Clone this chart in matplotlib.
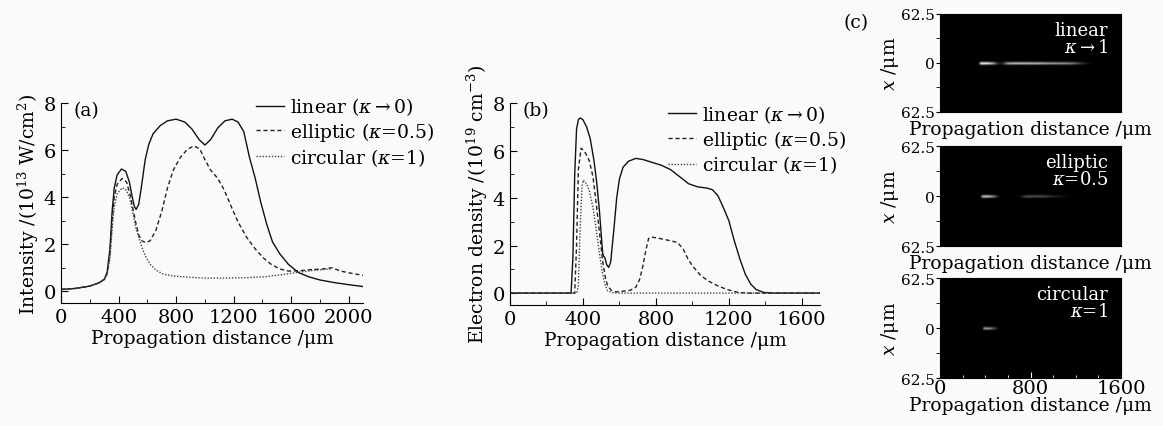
import matplotlib
matplotlib.use('Agg')
import matplotlib.pyplot as plt
import numpy as np
from matplotlib.ticker import MultipleLocator, FixedLocator

plt.rcParams['font.family'] = ['DejaVu Serif', 'DejaVu Sans']
plt.rcParams['mathtext.fontset'] = 'dejavuserif'
plt.rcParams['font.size'] = 13

# (a) peak intensity along propagation, 10^13 W/cm^2
za_lin = [0, 100, 200, 260, 300, 320, 340, 355, 370, 390, 420, 450, 475, 495, 510, 522, 540, 560, 585, 610,
          640, 690, 740, 800, 860, 910, 960, 1000, 1040, 1090, 1140, 1190, 1230, 1270, 1310, 1350, 1390,
          1430, 1470, 1520, 1580, 1650, 1720, 1800, 1900, 2000, 2100]
Ia_lin = [0.08, 0.12, 0.22, 0.35, 0.5, 0.8, 1.8, 3.4, 4.4, 4.95, 5.2, 5.1, 4.65, 4.0, 3.6, 3.48, 3.7, 4.5, 5.6, 6.25,
          6.7, 7.05, 7.25, 7.32, 7.2, 6.9, 6.45, 6.22, 6.45, 6.95, 7.25, 7.32, 7.2, 6.8, 5.7, 4.8, 3.75,
          2.85, 2.1, 1.6, 1.15, 0.8, 0.62, 0.48, 0.37, 0.28, 0.2]

za_ell = [0, 100, 200, 260, 300, 320, 340, 355, 370, 390, 425, 455, 480, 500, 520, 540, 560, 590, 620, 660,
          700, 740, 780, 830, 880, 925, 965, 1000, 1040, 1090, 1135, 1180, 1230, 1290, 1350, 1410, 1460,
          1520, 1580, 1650, 1740, 1820, 1880, 1950, 2030, 2100]
Ia_ell = [0.08, 0.12, 0.22, 0.35, 0.5, 0.75, 1.6, 3.0, 4.0, 4.55, 4.8, 4.65, 4.1, 3.5, 2.9, 2.4, 2.15, 2.07, 2.15, 2.6,
          3.4, 4.4, 5.15, 5.7, 6.05, 6.18, 6.05, 5.6, 5.15, 4.8, 4.3, 3.65, 2.95, 2.3, 1.8, 1.4, 1.15,
          0.95, 0.86, 0.87, 0.92, 0.95, 1.0, 0.85, 0.75, 0.68]

za_cir = [0, 100, 200, 260, 300, 320, 340, 355, 370, 390, 425, 455, 480, 500, 520, 540, 560, 590, 620, 660,
          710, 780, 880, 1000, 1150, 1300, 1420, 1530, 1640, 1740, 1840, 1880]
Ia_cir = [0.08, 0.12, 0.22, 0.35, 0.5, 0.7, 1.4, 2.6, 3.6, 4.15, 4.4, 4.3, 3.9, 3.3, 2.7, 2.3, 1.9, 1.45, 1.15, 0.9,
          0.73, 0.65, 0.6, 0.56, 0.56, 0.58, 0.62, 0.7, 0.8, 0.88, 0.93, 0.95]

# (b) on-axis electron density, 10^19 cm^-3
zb_lin = [0, 335, 345, 355, 365, 375, 385, 400, 420, 440, 460, 475, 490, 500, 508, 513, 520, 530, 541, 552,
          570, 585, 600, 620, 650, 690, 730, 780, 830, 880, 930, 980, 1030, 1080, 1110, 1140, 1170, 1200,
          1230, 1260, 1290, 1320, 1350, 1390, 1450, 1700]
Nb_lin = [0, 0, 1.5, 5.0, 6.9, 7.3, 7.37, 7.3, 7.0, 6.5, 5.6, 4.7, 3.5, 2.5, 1.7, 1.55, 1.5, 1.2, 1.08, 1.3,
          2.7, 4.0, 4.8, 5.3, 5.55, 5.67, 5.62, 5.5, 5.38, 5.2, 4.9, 4.6, 4.47, 4.42, 4.35, 4.1, 3.6, 3.05,
          2.2, 1.45, 0.8, 0.38, 0.15, 0.03, 0, 0]

zb_ell = [0, 355, 365, 375, 390, 410, 435, 455, 471, 490, 508, 522, 535, 555, 580, 620, 660, 690, 710, 727,
          745, 760, 775, 820, 870, 919, 950, 975, 1000, 1047, 1090, 1138, 1190, 1250, 1300, 1700]
Nb_ell = [0, 0, 2.0, 5.2, 6.1, 5.95, 5.57, 4.9, 3.89, 2.6, 1.36, 0.7, 0.31, 0.12, 0.05, 0.08, 0.12, 0.25, 0.55, 1.08,
          1.8, 2.3, 2.36, 2.3, 2.22, 2.13, 1.85, 1.45, 1.15, 0.73, 0.5, 0.31, 0.15, 0.03, 0, 0]

zb_cir = [0, 365, 375, 385, 395, 402, 420, 435, 455, 471, 490, 508, 522, 535, 560, 600, 1700]
Nb_cir = [0, 0, 0.3, 2.8, 4.5, 4.76, 4.6, 4.3, 3.6, 2.77, 1.7, 0.8, 0.35, 0.1, 0.02, 0, 0]

# (c) transverse beam profile used for the x-z maps
x_tr = [-62.5, -3, -1.5, 0, 1.5, 3, 62.5]
prof_tr = [0, 0, 0.45, 1, 0.45, 0, 0]

labels = [r'linear ($\kappa$$\rightarrow$0)', r'elliptic ($\kappa$=0.5)', r'circular ($\kappa$=1)']
map_titles = ['linear\n' + r'$\kappa$$\rightarrow$1', 'elliptic\n' + r'$\kappa$=0.5', 'circular\n' + r'$\kappa$=1']

bg = '#fafafa'
fig = plt.figure(figsize=(11.63, 4.27), dpi=100, facecolor=bg)

styles = [dict(color='#111111', lw=1.0, ls='-'),
          dict(color='#222222', lw=1.0, ls=(0, (3, 2))),
          dict(color='#444444', lw=1.0, ls=(0, (1, 1.2)))]


def style_axes(ax, xmax, xmajor):
    ax.set_facecolor(bg)
    for s in ['top', 'right']:
        ax.spines[s].set_visible(False)
    ax.set_xlim(0, xmax)
    ax.set_ylim(-0.5, 8)
    ax.xaxis.set_major_locator(MultipleLocator(xmajor))
    ax.xaxis.set_minor_locator(MultipleLocator(xmajor / 2))
    ax.yaxis.set_major_locator(MultipleLocator(2))
    ax.yaxis.set_minor_locator(MultipleLocator(1))
    ax.tick_params(which='both', direction='in', labelsize=14)
    ax.tick_params(which='major', length=5)
    ax.tick_params(which='minor', length=3)
    ax.set_xlabel('Propagation distance /μm', fontsize=13.5, labelpad=2)


# panel (a)
axa = fig.add_axes([0.0525, 0.288, 0.2597, 0.468])
style_axes(axa, 2100, 400)
for z, v, lab, st in zip([za_lin, za_ell, za_cir], [Ia_lin, Ia_ell, Ia_cir], labels, styles):
    axa.plot(z, v, label=lab, **st)
axa.set_ylabel(r'Intensity /(10$^{13}$ W/cm$^{2}$)', fontsize=13.5, labelpad=2)
axa.text(0.04, 1.01, '(a)', transform=axa.transAxes, va='top', fontsize=13.5)
axa.legend(loc='upper left', bbox_to_anchor=(0.645, 1.04), frameon=False, fontsize=13.5,
           handlelength=1.5, handletextpad=0.3, labelspacing=0.15, borderpad=0, borderaxespad=0)

# panel (b)
axb = fig.add_axes([0.4385, 0.2834, 0.2666, 0.473])
style_axes(axb, 1700, 400)
for z, v, lab, st in zip([zb_lin, zb_ell, zb_cir], [Nb_lin, Nb_ell, Nb_cir], labels, styles):
    axb.plot(z, v, label=lab, **st)
axb.set_ylabel(r'Electron density /(10$^{19}$ cm$^{-3}$)', fontsize=13.5, labelpad=2)
axb.text(0.04, 1.01, '(b)', transform=axb.transAxes, va='top', fontsize=13.5)
axb.legend(loc='upper left', bbox_to_anchor=(0.51, 1.0), frameon=False, fontsize=13.5,
           handlelength=1.5, handletextpad=0.3, labelspacing=0.15, borderpad=0, borderaxespad=0)

# panel (c): x-z maps of the plasma channel
map_boxes = [[0.8083, 0.7354, 0.1556, 0.2295],
             [0.8083, 0.4215, 0.1556, 0.234],
             [0.8083, 0.1124, 0.1556, 0.234]]
nmax = max(Nb_lin)
for i, (box, z, v, title) in enumerate(zip(map_boxes, [zb_lin, zb_ell, zb_cir],
                                              [Nb_lin, Nb_ell, Nb_cir], map_titles)):
    axc = fig.add_axes(box)
    axc.set_facecolor('black')
    img = np.outer(prof_tr, v)
    axc.pcolormesh(z, x_tr, img, shading='gouraud', cmap='gray', vmin=0, vmax=nmax)
    axc.set_xlim(0, 1600)
    axc.set_ylim(-62.5, 62.5)
    axc.yaxis.set_major_locator(FixedLocator([-62.5, 0, 62.5]))
    axc.yaxis.set_minor_locator(FixedLocator([-31.25, 31.25]))
    axc.set_yticklabels(['62.5', '0', '62.5'])
    axc.tick_params(axis='y', which='both', direction='out', length=3, labelsize=11, pad=1)
    if i == 2:
        axc.xaxis.set_major_locator(FixedLocator([0, 800, 1600]))
        axc.xaxis.set_minor_locator(MultipleLocator(200))
        axc.tick_params(axis='x', which='both', direction='in', color='white', labelsize=14, pad=1)
        axc.tick_params(axis='x', which='major', length=4)
        axc.tick_params(axis='x', which='minor', length=2)
        axc.set_xlabel('Propagation distance /μm', fontsize=13.5, labelpad=-1)
    else:
        axc.set_xticks([])
        axc.set_xlabel('Propagation distance /μm', fontsize=13.5, labelpad=6)
    axc.set_ylabel(r'$x$ /μm', fontsize=13.5, labelpad=0)
    axc.text(0.93, 0.93, title, transform=axc.transAxes, ha='right', va='top', color='white',
             fontsize=13, linespacing=0.95, multialignment='right')

fig.text(0.725, 0.968, '(c)', fontsize=13.5, va='top')

fig.savefig('out.png', dpi=100, facecolor=bg)
